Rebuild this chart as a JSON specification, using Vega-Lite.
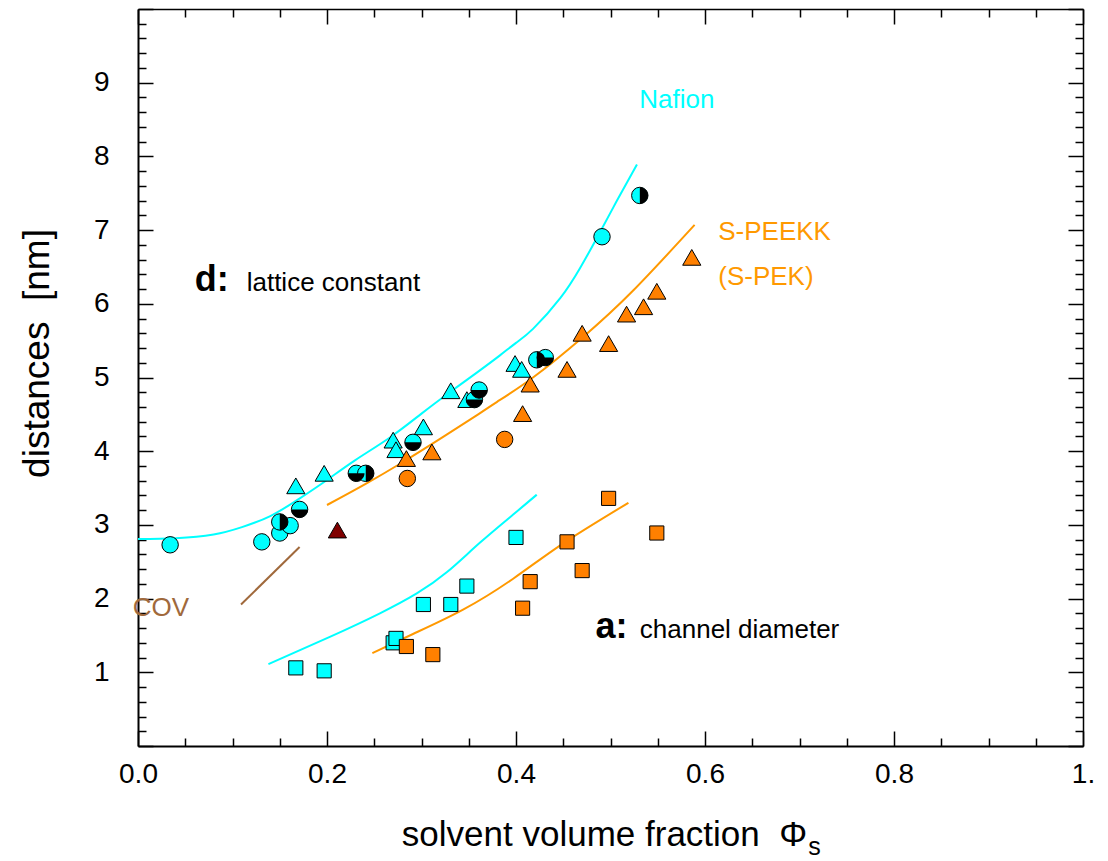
{
  "$schema": "https://vega.github.io/schema/vega-lite/v6.json",
  "width": 945,
  "height": 737,
  "autosize": {"type": "none"},
  "padding": {"left": 138, "top": 9, "right": 25, "bottom": 115},
  "background": "white",
  "config": {"view": {"stroke": null}, "font": "Liberation Sans", "axis": {"grid": false}},
  "datasets": {
    "curves": [
      {"curve": "Nafion d", "material": "Nafion", "x": 0.0, "y": 2.81},
      {"curve": "Nafion d", "material": "Nafion", "x": 0.04, "y": 2.82},
      {"curve": "Nafion d", "material": "Nafion", "x": 0.08, "y": 2.87},
      {"curve": "Nafion d", "material": "Nafion", "x": 0.11, "y": 2.97},
      {"curve": "Nafion d", "material": "Nafion", "x": 0.14, "y": 3.12},
      {"curve": "Nafion d", "material": "Nafion", "x": 0.17, "y": 3.35},
      {"curve": "Nafion d", "material": "Nafion", "x": 0.20, "y": 3.61},
      {"curve": "Nafion d", "material": "Nafion", "x": 0.23, "y": 3.88},
      {"curve": "Nafion d", "material": "Nafion", "x": 0.267, "y": 4.19},
      {"curve": "Nafion d", "material": "Nafion", "x": 0.30, "y": 4.51},
      {"curve": "Nafion d", "material": "Nafion", "x": 0.33, "y": 4.80},
      {"curve": "Nafion d", "material": "Nafion", "x": 0.36, "y": 5.08},
      {"curve": "Nafion d", "material": "Nafion", "x": 0.383, "y": 5.30},
      {"curve": "Nafion d", "material": "Nafion", "x": 0.40, "y": 5.47},
      {"curve": "Nafion d", "material": "Nafion", "x": 0.418, "y": 5.66},
      {"curve": "Nafion d", "material": "Nafion", "x": 0.447, "y": 6.08},
      {"curve": "Nafion d", "material": "Nafion", "x": 0.468, "y": 6.49},
      {"curve": "Nafion d", "material": "Nafion", "x": 0.485, "y": 6.88},
      {"curve": "Nafion d", "material": "Nafion", "x": 0.506, "y": 7.38},
      {"curve": "Nafion d", "material": "Nafion", "x": 0.528, "y": 7.89},
      {"curve": "S-PEEKK d", "material": "S-PEEKK", "x": 0.200, "y": 3.27},
      {"curve": "S-PEEKK d", "material": "S-PEEKK", "x": 0.24, "y": 3.55},
      {"curve": "S-PEEKK d", "material": "S-PEEKK", "x": 0.28, "y": 3.85},
      {"curve": "S-PEEKK d", "material": "S-PEEKK", "x": 0.32, "y": 4.17},
      {"curve": "S-PEEKK d", "material": "S-PEEKK", "x": 0.36, "y": 4.50},
      {"curve": "S-PEEKK d", "material": "S-PEEKK", "x": 0.38, "y": 4.67},
      {"curve": "S-PEEKK d", "material": "S-PEEKK", "x": 0.418, "y": 5.00},
      {"curve": "S-PEEKK d", "material": "S-PEEKK", "x": 0.471, "y": 5.55},
      {"curve": "S-PEEKK d", "material": "S-PEEKK", "x": 0.524, "y": 6.18},
      {"curve": "S-PEEKK d", "material": "S-PEEKK", "x": 0.589, "y": 7.07},
      {"curve": "Nafion a", "material": "Nafion", "x": 0.138, "y": 1.11},
      {"curve": "Nafion a", "material": "Nafion", "x": 0.203, "y": 1.48},
      {"curve": "Nafion a", "material": "Nafion", "x": 0.256, "y": 1.80},
      {"curve": "Nafion a", "material": "Nafion", "x": 0.295, "y": 2.07},
      {"curve": "Nafion a", "material": "Nafion", "x": 0.327, "y": 2.36},
      {"curve": "Nafion a", "material": "Nafion", "x": 0.362, "y": 2.76},
      {"curve": "Nafion a", "material": "Nafion", "x": 0.397, "y": 3.14},
      {"curve": "Nafion a", "material": "Nafion", "x": 0.422, "y": 3.41},
      {"curve": "S-PEEKK a", "material": "S-PEEKK", "x": 0.248, "y": 1.26},
      {"curve": "S-PEEKK a", "material": "S-PEEKK", "x": 0.291, "y": 1.52},
      {"curve": "S-PEEKK a", "material": "S-PEEKK", "x": 0.344, "y": 1.85},
      {"curve": "S-PEEKK a", "material": "S-PEEKK", "x": 0.397, "y": 2.27},
      {"curve": "S-PEEKK a", "material": "S-PEEKK", "x": 0.450, "y": 2.75},
      {"curve": "S-PEEKK a", "material": "S-PEEKK", "x": 0.519, "y": 3.30},
      {"curve": "COV", "material": "COV", "x": 0.109, "y": 1.92},
      {"curve": "COV", "material": "COV", "x": 0.171, "y": 2.70}
    ],
    "points": [
      {"material": "Nafion", "method": "A", "x": 0.034, "y": 2.73},
      {"material": "Nafion", "method": "A", "x": 0.131, "y": 2.77},
      {"material": "Nafion", "method": "A", "x": 0.150, "y": 2.89},
      {"material": "Nafion", "method": "A", "x": 0.161, "y": 2.99},
      {"material": "Nafion", "method": "A", "x": 0.491, "y": 6.91},
      {"material": "Nafion", "method": "B", "x": 0.167, "y": 3.53},
      {"material": "Nafion", "method": "B", "x": 0.197, "y": 3.70},
      {"material": "Nafion", "method": "B", "x": 0.270, "y": 4.15},
      {"material": "Nafion", "method": "B", "x": 0.273, "y": 4.02},
      {"material": "Nafion", "method": "B", "x": 0.302, "y": 4.33},
      {"material": "Nafion", "method": "B", "x": 0.331, "y": 4.82},
      {"material": "Nafion", "method": "B", "x": 0.348, "y": 4.70},
      {"material": "Nafion", "method": "B", "x": 0.399, "y": 5.19},
      {"material": "Nafion", "method": "B", "x": 0.406, "y": 5.11},
      {"material": "S-PEEKK", "method": "B", "x": 0.284, "y": 3.90},
      {"material": "S-PEEKK", "method": "B", "x": 0.311, "y": 3.99},
      {"material": "S-PEEKK", "method": "B", "x": 0.407, "y": 4.51},
      {"material": "S-PEEKK", "method": "B", "x": 0.415, "y": 4.91},
      {"material": "S-PEEKK", "method": "B", "x": 0.454, "y": 5.11},
      {"material": "S-PEEKK", "method": "B", "x": 0.470, "y": 5.60},
      {"material": "S-PEEKK", "method": "B", "x": 0.498, "y": 5.46},
      {"material": "S-PEEKK", "method": "B", "x": 0.517, "y": 5.86},
      {"material": "S-PEEKK", "method": "B", "x": 0.535, "y": 5.96},
      {"material": "S-PEEKK", "method": "B", "x": 0.549, "y": 6.17},
      {"material": "S-PEEKK", "method": "B", "x": 0.586, "y": 6.63},
      {"material": "S-PEEKK", "method": "A", "x": 0.285, "y": 3.63},
      {"material": "S-PEEKK", "method": "A", "x": 0.388, "y": 4.16},
      {"material": "COV", "method": "B", "x": 0.211, "y": 2.93},
      {"material": "Nafion", "method": "C", "x": 0.167, "y": 1.06},
      {"material": "Nafion", "method": "C", "x": 0.197, "y": 1.02},
      {"material": "Nafion", "method": "C", "x": 0.270, "y": 1.40},
      {"material": "Nafion", "method": "C", "x": 0.273, "y": 1.46},
      {"material": "Nafion", "method": "C", "x": 0.302, "y": 1.92},
      {"material": "Nafion", "method": "C", "x": 0.331, "y": 1.92},
      {"material": "Nafion", "method": "C", "x": 0.348, "y": 2.17},
      {"material": "Nafion", "method": "C", "x": 0.400, "y": 2.83},
      {"material": "S-PEEKK", "method": "C", "x": 0.284, "y": 1.35},
      {"material": "S-PEEKK", "method": "C", "x": 0.312, "y": 1.24},
      {"material": "S-PEEKK", "method": "C", "x": 0.407, "y": 1.87},
      {"material": "S-PEEKK", "method": "C", "x": 0.415, "y": 2.23},
      {"material": "S-PEEKK", "method": "C", "x": 0.454, "y": 2.77},
      {"material": "S-PEEKK", "method": "C", "x": 0.470, "y": 2.38},
      {"material": "S-PEEKK", "method": "C", "x": 0.498, "y": 3.36},
      {"material": "S-PEEKK", "method": "C", "x": 0.549, "y": 2.89}
    ],
    "halves": [
      {"split": "vertical", "x": 0.150, "y": 3.04},
      {"split": "horizontal", "x": 0.171, "y": 3.21},
      {"split": "horizontal", "x": 0.231, "y": 3.70},
      {"split": "vertical", "x": 0.241, "y": 3.70},
      {"split": "horizontal", "x": 0.291, "y": 4.12},
      {"split": "horizontal", "x": 0.356, "y": 4.70},
      {"split": "horizontal", "x": 0.361, "y": 4.83},
      {"split": "vertical", "x": 0.422, "y": 5.24},
      {"split": "horizontal", "x": 0.431, "y": 5.27},
      {"split": "vertical", "x": 0.531, "y": 7.47}
    ],
    "boldNotes": [
      {"label": "d:", "x": 0.060, "y": 6.18},
      {"label": "a:", "x": 0.484, "y": 1.47}
    ],
    "plainNotes": [
      {"label": "lattice constant", "x": 0.115, "y": 6.18},
      {"label": "channel diameter", "x": 0.531, "y": 1.47}
    ],
    "colorNotes": [
      {"label": "Nafion", "material": "Nafion", "x": 0.5305, "y": 8.65},
      {"label": "S-PEEKK", "material": "S-PEEKK", "x": 0.614, "y": 6.866},
      {"label": "(S-PEK)", "material": "S-PEEKK", "x": 0.614, "y": 6.26},
      {"label": "COV", "material": "COV", "x": -0.0056, "y": 1.76}
    ],
    "subscript": [
      {"label": "s", "x": 0.716, "y": -1.477}
    ]
  },
  "resolve": {"axis": {"x": "independent", "y": "independent"}},
  "layer": [
    {
      "data": {"name": "curves"},
      "mark": {"type": "line", "strokeWidth": 2, "interpolate": "natural"},
      "encoding": {
        "x": {
          "field": "x", "type": "quantitative",
          "scale": {"domain": [0, 1], "nice": false, "zero": false},
          "axis": {
            "orient": "bottom",
            "values": [0, 0.05, 0.1, 0.15, 0.2, 0.25, 0.3, 0.35, 0.4, 0.45, 0.5, 0.55, 0.6, 0.65, 0.7, 0.75, 0.8, 0.85, 0.9, 0.95, 1],
            "title": "solvent volume fraction\u00a0\u00a0Φ",
            "titleFont": "Liberation Sans", "titleFontSize": 35, "titleFontWeight": "normal", "titleColor": "black",
            "titleX": 466, "titleY": 99, "titleAlign": "center", "titleBaseline": "alphabetic",
            "labelExpr": "abs(datum.value*5 - round(datum.value*5)) < 0.001 ? (datum.value == 1 ? '1.' : format(datum.value, '.1f')) : ''",
            "labelFont": "Liberation Sans", "labelFontSize": 28, "labelColor": "black",
            "labelPadding": 29, "labelFlush": false, "labelOverlap": false, "labelBaseline": "top", "labelAlign": "center",
            "tickSize": {"condition": {"test": "abs(datum.value*5 - round(datum.value*5)) < 0.001", "value": -15}, "value": -8},
            "tickColor": "black", "tickWidth": 1.5,
            "domainColor": "black", "domainWidth": 2
          }
        },
        "y": {
          "field": "y", "type": "quantitative",
          "scale": {"domain": [0, 10], "nice": false, "zero": false},
          "axis": {
            "orient": "left",
            "values": [0, 0.2, 0.4, 0.6, 0.8, 1, 1.2, 1.4, 1.6, 1.8, 2, 2.2, 2.4, 2.6, 2.8, 3, 3.2, 3.4, 3.6, 3.8, 4, 4.2, 4.4, 4.6, 4.8, 5, 5.2, 5.4, 5.6, 5.8, 6, 6.2, 6.4, 6.6, 6.8, 7, 7.2, 7.4, 7.6, 7.8, 8, 8.2, 8.4, 8.6, 8.8, 9, 9.2, 9.4, 9.6, 9.8, 10],
            "title": "distances\u00a0\u00a0[nm]",
            "titleFont": "Liberation Sans", "titleFontSize": 37, "titleFontWeight": "normal", "titleColor": "black",
            "titleX": -90, "titleY": 344, "titleAlign": "center", "titleBaseline": "alphabetic", "titleAngle": 270,
            "labelExpr": "abs(datum.value - round(datum.value)) < 0.001 && datum.value >= 1 && datum.value <= 9 ? format(datum.value, 'd') : ''",
            "labelFont": "Liberation Sans", "labelFontSize": 28, "labelColor": "black",
            "labelPadding": 44, "labelFlush": false, "labelOverlap": false, "labelBaseline": "middle", "labelAlign": "right",
            "tickSize": {"condition": {"test": "abs(datum.value - round(datum.value)) < 0.001", "value": -15}, "value": -8},
            "tickColor": "black", "tickWidth": 1.5,
            "domainColor": "black", "domainWidth": 2
          }
        },
        "color": {
          "field": "material", "type": "nominal",
          "scale": {"domain": ["Nafion", "S-PEEKK", "COV"], "range": ["#00FFFF", "#FF9900", "#A0693C"]},
          "legend": null
        },
        "detail": {"field": "curve", "type": "nominal"}
      }
    },
    {
      "data": {"name": "points"},
      "transform": [{"filter": "datum.method == 'A'"}],
      "mark": {"type": "point", "filled": true, "shape": "circle", "size": 270, "stroke": "black", "strokeWidth": 1, "opacity": 1},
      "encoding": {
        "x": {
          "field": "x", "type": "quantitative",
          "scale": {"domain": [0, 1], "nice": false, "zero": false},
          "axis": {
            "orient": "top",
            "values": [0, 0.05, 0.1, 0.15, 0.2, 0.25, 0.3, 0.35, 0.4, 0.45, 0.5, 0.55, 0.6, 0.65, 0.7, 0.75, 0.8, 0.85, 0.9, 0.95, 1],
            "title": null, "labels": false,
            "tickSize": {"condition": {"test": "abs(datum.value*5 - round(datum.value*5)) < 0.001", "value": -15}, "value": -8},
            "tickColor": "black", "tickWidth": 1.5,
            "domainColor": "black", "domainWidth": 1.5
          }
        },
        "y": {
          "field": "y", "type": "quantitative",
          "scale": {"domain": [0, 10], "nice": false, "zero": false},
          "axis": {
            "orient": "right",
            "values": [0, 0.2, 0.4, 0.6, 0.8, 1, 1.2, 1.4, 1.6, 1.8, 2, 2.2, 2.4, 2.6, 2.8, 3, 3.2, 3.4, 3.6, 3.8, 4, 4.2, 4.4, 4.6, 4.8, 5, 5.2, 5.4, 5.6, 5.8, 6, 6.2, 6.4, 6.6, 6.8, 7, 7.2, 7.4, 7.6, 7.8, 8, 8.2, 8.4, 8.6, 8.8, 9, 9.2, 9.4, 9.6, 9.8, 10],
            "title": null, "labels": false,
            "tickSize": {"condition": {"test": "abs(datum.value - round(datum.value)) < 0.001", "value": -15}, "value": -8},
            "tickColor": "black", "tickWidth": 1.5,
            "domainColor": "black", "domainWidth": 1.5
          }
        },
        "fill": {
          "field": "material", "type": "nominal",
          "scale": {"domain": ["Nafion", "S-PEEKK", "COV"], "range": ["#00FFFF", "#FF8000", "#800000"]},
          "legend": null
        }
      }
    },
    {
      "data": {"name": "points"},
      "transform": [{"filter": "datum.method == 'B'"}],
      "mark": {"type": "point", "filled": true, "shape": "triangle-up", "size": 330, "stroke": "black", "strokeWidth": 1, "opacity": 1},
      "encoding": {
        "x": {"field": "x", "type": "quantitative", "axis": null},
        "y": {"field": "y", "type": "quantitative", "axis": null},
        "fill": {
          "field": "material", "type": "nominal",
          "scale": {"domain": ["Nafion", "S-PEEKK", "COV"], "range": ["#00FFFF", "#FF8000", "#800000"]},
          "legend": null
        }
      }
    },
    {
      "data": {"name": "points"},
      "transform": [{"filter": "datum.method == 'C'"}],
      "mark": {"type": "point", "filled": true, "shape": "square", "size": 200, "stroke": "black", "strokeWidth": 1, "opacity": 1},
      "encoding": {
        "x": {"field": "x", "type": "quantitative", "axis": null},
        "y": {"field": "y", "type": "quantitative", "axis": null},
        "fill": {
          "field": "material", "type": "nominal",
          "scale": {"domain": ["Nafion", "S-PEEKK", "COV"], "range": ["#00FFFF", "#FF8000", "#800000"]},
          "legend": null
        }
      }
    },
    {
      "data": {"name": "halves"},
      "mark": {"type": "point", "filled": true, "fill": "#00FFFF", "stroke": "black", "strokeWidth": 1, "opacity": 1, "shape": "circle", "size": 270},
      "encoding": {
        "x": {"field": "x", "type": "quantitative", "axis": null},
        "y": {"field": "y", "type": "quantitative", "axis": null}
      }
    },
    {
      "data": {"name": "halves"},
      "transform": [{"filter": "datum.split == 'horizontal'"}],
      "mark": {"type": "point", "filled": true, "fill": "black", "strokeWidth": 0, "opacity": 1, "shape": "M-1,0A1,1,0,0,0,1,0Z", "size": 270},
      "encoding": {
        "x": {"field": "x", "type": "quantitative", "axis": null},
        "y": {"field": "y", "type": "quantitative", "axis": null}
      }
    },
    {
      "data": {"name": "halves"},
      "transform": [{"filter": "datum.split == 'vertical'"}],
      "mark": {"type": "point", "filled": true, "fill": "black", "strokeWidth": 0, "opacity": 1, "shape": "M0,-1A1,1,0,0,1,0,1Z", "size": 270},
      "encoding": {
        "x": {"field": "x", "type": "quantitative", "axis": null},
        "y": {"field": "y", "type": "quantitative", "axis": null}
      }
    },
    {
      "data": {"name": "boldNotes"},
      "mark": {"type": "text", "font": "Liberation Sans", "fontWeight": "bold", "fontSize": 36, "align": "left", "baseline": "alphabetic", "color": "black"},
      "encoding": {
        "x": {"field": "x", "type": "quantitative", "axis": null},
        "y": {"field": "y", "type": "quantitative", "axis": null},
        "text": {"field": "label"}
      }
    },
    {
      "data": {"name": "plainNotes"},
      "mark": {"type": "text", "font": "Liberation Sans", "fontSize": 26, "align": "left", "baseline": "alphabetic", "color": "black"},
      "encoding": {
        "x": {"field": "x", "type": "quantitative", "axis": null},
        "y": {"field": "y", "type": "quantitative", "axis": null},
        "text": {"field": "label"}
      }
    },
    {
      "data": {"name": "colorNotes"},
      "mark": {"type": "text", "font": "Liberation Sans", "fontSize": 26, "align": "left", "baseline": "alphabetic"},
      "encoding": {
        "x": {"field": "x", "type": "quantitative", "axis": null},
        "y": {"field": "y", "type": "quantitative", "axis": null},
        "text": {"field": "label"},
        "color": {
          "field": "material", "type": "nominal",
          "scale": {"domain": ["Nafion", "S-PEEKK", "COV"], "range": ["#00FFFF", "#FF9900", "#A0693C"]},
          "legend": null
        }
      }
    },
    {
      "data": {"name": "subscript"},
      "mark": {"type": "text", "font": "Liberation Sans", "fontSize": 25, "align": "center", "baseline": "alphabetic", "color": "black"},
      "encoding": {
        "x": {"field": "x", "type": "quantitative", "axis": null},
        "y": {"field": "y", "type": "quantitative", "axis": null},
        "text": {"field": "label"}
      }
    }
  ]
}
